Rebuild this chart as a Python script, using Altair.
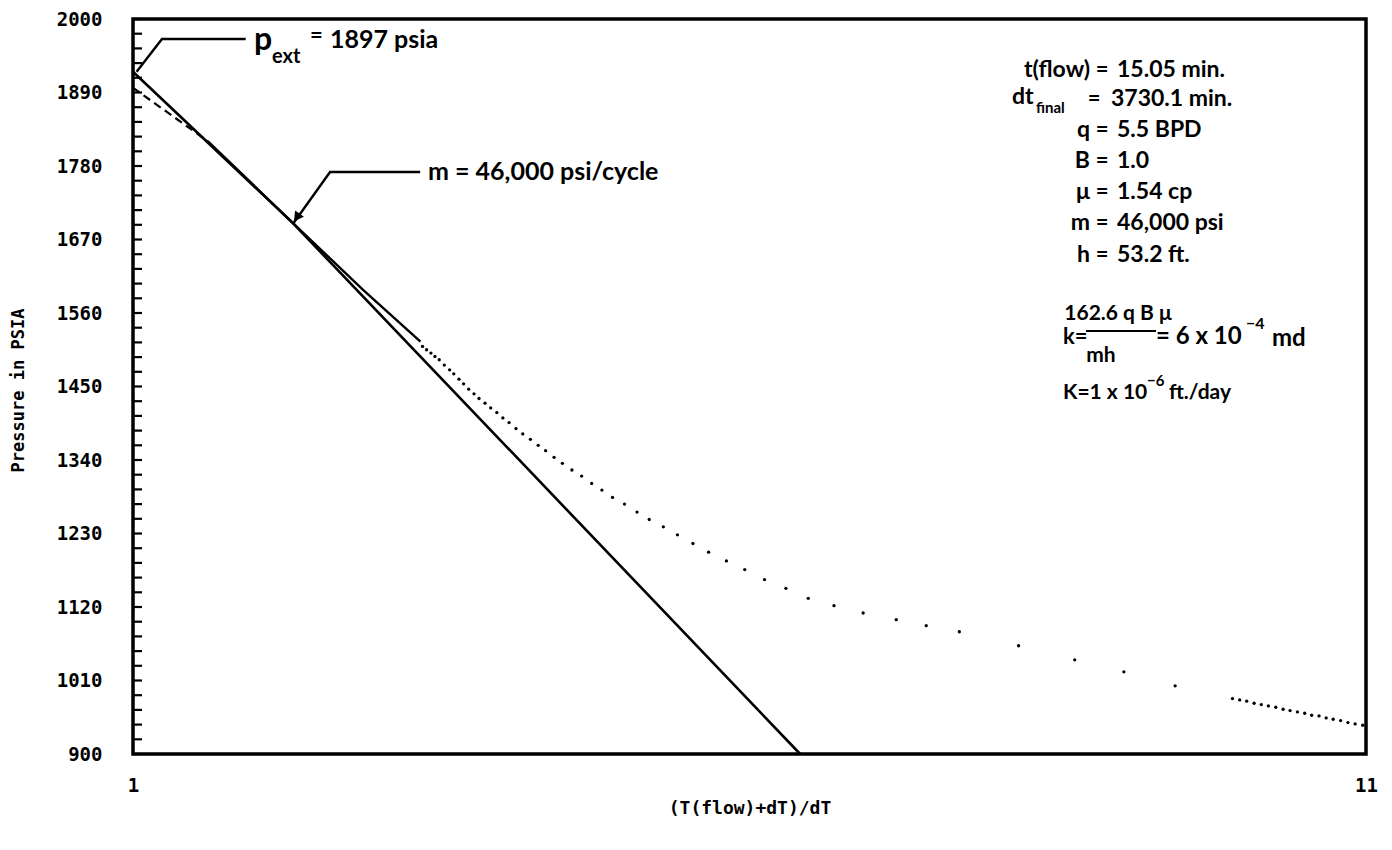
import altair as alt
import pandas as pd

# ---------------- data ----------------
# straight Horner line (solid)
line_x = [1.0, 1.364, 3.66]
line_p = [1921, 1695, 900]

# extrapolation to p* (dashed)
ext_x = [1.0, 1.157]
ext_p = [1897, 1817]

# measured build-up data drawn as a continuous trace
meas_x = [1.157, 1.364, 1.566, 1.749]
meas_p = [1817, 1695, 1594, 1517]

# measured build-up data drawn as dots
dot_x = [1.756, 1.770, 1.785, 1.799, 1.814, 1.832, 1.851, 1.866, 1.885, 1.902,
         1.921, 1.941, 1.960, 1.983, 2.005, 2.029, 2.053, 2.078, 2.106, 2.134,
         2.166, 2.199, 2.231, 2.268, 2.305, 2.348, 2.393, 2.440, 2.489, 2.541,
         2.601, 2.665, 2.729, 2.805, 2.883, 2.971, 3.063, 3.171, 3.286, 3.415,
         3.560, 3.718, 3.909, 4.137, 4.412, 4.677, 4.988, 5.597, 6.243, 6.869,
         7.589, 8.484, 8.604, 8.722, 8.849, 8.974, 9.098, 9.229, 9.362, 9.490,
         9.627, 9.764, 9.897, 10.04, 10.18, 10.32, 10.47, 10.62, 10.77, 10.93]
dot_p = [1510, 1505, 1500, 1495, 1490, 1482, 1475, 1469, 1461, 1454,
         1446, 1439, 1432, 1425, 1418, 1411, 1403, 1396, 1387, 1379,
         1371, 1362, 1354, 1344, 1335, 1325, 1316, 1305, 1295, 1284,
         1274, 1262, 1251, 1240, 1228, 1215, 1202, 1189, 1176, 1161,
         1148, 1133, 1122, 1111, 1101, 1092, 1083, 1062, 1041, 1023,
         1002, 983, 981, 979, 976, 974, 972, 970, 967, 965,
         963, 961, 958, 957, 954, 952, 950, 947, 945, 943]

# annotation leaders (anchored to data)
pext_lead_x = [1.007, 1.058, 1.245]
pext_lead_p = [1921, 1970, 1970]
m_lead_x = [1.367, 1.467, 1.748]
m_lead_p = [1695, 1771, 1771]
m_arrow_x = [1.375]
m_arrow_p = [1703]

# axis tick labels
x_labels = [1, 11]
y_labels = [900, 1010, 1120, 1230, 1340, 1450, 1560, 1670, 1780, 1890, 2000]
y_minor = list(range(900, 2001, 22))

# ---------------- chart ----------------
W, H = 1233, 735
OX, OY = 133, 19
MONO = "DejaVu Sans Mono"
ANN = "Lato, 'Noto Sans', sans-serif"

xs = alt.Scale(type="log", domain=[1, 11], nice=False)
ys = alt.Scale(domain=[900, 2000], nice=False, zero=False)

x_axis = alt.Axis(values=x_labels, format="d", ticks=False, domain=False, grid=False,
                  labelFont=MONO, labelFontWeight="bold", labelFontSize=19,
                  labelPadding=22, labelFlush=False, labelColor="black",
                  title="(T(flow)+dT)/dT", titleFont=MONO, titleFontWeight="bold",
                  titleFontSize=18, titleColor="black", titleX=W / 2, titleY=54,
                  titleBaseline="middle", titleAlign="center")
y_axis = alt.Axis(values=y_labels, format="d", ticks=False, domain=False, grid=False,
                  labelFont=MONO, labelFontWeight="bold", labelFontSize=19,
                  labelPadding=31, labelColor="black", labelBaseline="middle",
                  title="Pressure in PSIA", titleFont=MONO, titleFontWeight="bold",
                  titleFontSize=17, titleColor="black", titleX=18 - OX,
                  titleY=390 - OY, titleAngle=270, titleBaseline="middle",
                  titleAlign="center")


def X():
    return alt.X("x:Q", scale=xs, axis=x_axis)


def Y():
    return alt.Y("p:Q", scale=ys, axis=y_axis)


def df(xv, pv):
    return pd.DataFrame({"x": xv, "p": pv, "o": list(range(len(xv)))})


layers = []

# straight line (first, so its axes lead)
layers.append(
    alt.Chart(df(line_x, line_p)).mark_line(color="black", strokeWidth=2.6)
    .encode(x=X(), y=Y(), order="o:Q")
)
# inward ticks on the pressure axis
layers.append(
    alt.Chart(pd.DataFrame({"p": y_minor})).mark_rule(color="black", strokeWidth=2.2)
    .encode(y=Y(), x=alt.value(0), x2=alt.value(9))
)
layers.append(
    alt.Chart(df(ext_x, ext_p)).mark_line(color="black", strokeWidth=2.2, strokeDash=[8, 5])
    .encode(x=X(), y=Y(), order="o:Q")
)
layers.append(
    alt.Chart(df(meas_x, meas_p)).mark_line(color="black", strokeWidth=2.4)
    .encode(x=X(), y=Y(), order="o:Q")
)
layers.append(
    alt.Chart(df(dot_x, dot_p)).mark_circle(color="black", size=11, opacity=1)
    .encode(x=X(), y=Y())
)
layers.append(
    alt.Chart(df(pext_lead_x, pext_lead_p)).mark_line(color="black", strokeWidth=2.4)
    .encode(x=X(), y=Y(), order="o:Q")
)
layers.append(
    alt.Chart(df(m_lead_x, m_lead_p)).mark_line(color="black", strokeWidth=2.4)
    .encode(x=X(), y=Y(), order="o:Q")
)
layers.append(
    alt.Chart(df(m_arrow_x, m_arrow_p)).mark_point(shape="triangle-up", filled=True,
                                                   size=120, angle=216, color="black",
                                                   opacity=1)
    .encode(x=X(), y=Y())
)


def txt(s, px, py, size=22, align="left", font=ANN, baseline="middle"):
    return (alt.Chart(pd.DataFrame({"t": [s]}))
            .mark_text(text=s, font=font, fontWeight="bold", fontSize=size,
                       align=align, baseline=baseline, color="black")
            .encode(x=alt.value(px - OX), y=alt.value(py - OY)))


# p_ext annotation
layers += [
    txt("p", 254, 40, 32),
    txt("ext", 272, 57, 20),
    txt("=", 310, 36, 22),
    txt("1897 psia", 330, 40, 25),
]
# slope annotation
layers.append(txt("m = 46,000 psi/cycle", 428, 172, 25))

# parameter block
EQ, VAL, LAB = 1102, 1117, 1090
rows = [("t(flow)", "15.05 min.", 70), ("q", "5.5 BPD", 130), ("B", "1.0", 161),
        ("μ", "1.54 cp", 192), ("m", "46,000 psi", 223), ("h", "53.2 ft.", 255)]
for lab, val, yy in rows:
    layers += [txt(lab, LAB, yy, 23, "right"), txt("=", EQ, yy, 22, "center"),
               txt(val, VAL, yy, 23)]
layers += [txt("dt", 1012, 97, 23), txt("final", 1036, 108, 15),
           txt("=", EQ - 8, 99, 22, "center"), txt("3730.1 min.", VAL - 6, 99, 23)]

# permeability formula
layers += [
    txt("k=", 1063, 337, 22),
    txt("162.6 q B μ", 1118, 314, 21, "center"),
    (alt.Chart(pd.DataFrame({"t": [0]})).mark_rule(color="black", strokeWidth=2)
     .encode(x=alt.value(1086 - OX), x2=alt.value(1156 - OX), y=alt.value(331 - OY))),
    txt("mh", 1101, 356, 21, "center"),
    txt("= 6 x 10", 1156, 337, 24),
    txt("−4", 1246, 324, 16),
    txt("md", 1272, 339, 24),
    txt("K=1 x 10", 1063, 393, 21),
    txt("−6", 1147, 381, 15),
    txt("ft./day", 1169, 393, 21),
]

chart = alt.layer(*layers).properties(
    width=W, height=H,
    padding={"left": 125, "top": 11, "right": 18, "bottom": 85},
    autosize=alt.AutoSizeParams(type="none"),
).configure_view(stroke="black", strokeWidth=3.5)

chart.save("out.html", embed_options={"renderer": "svg", "actions": False})
